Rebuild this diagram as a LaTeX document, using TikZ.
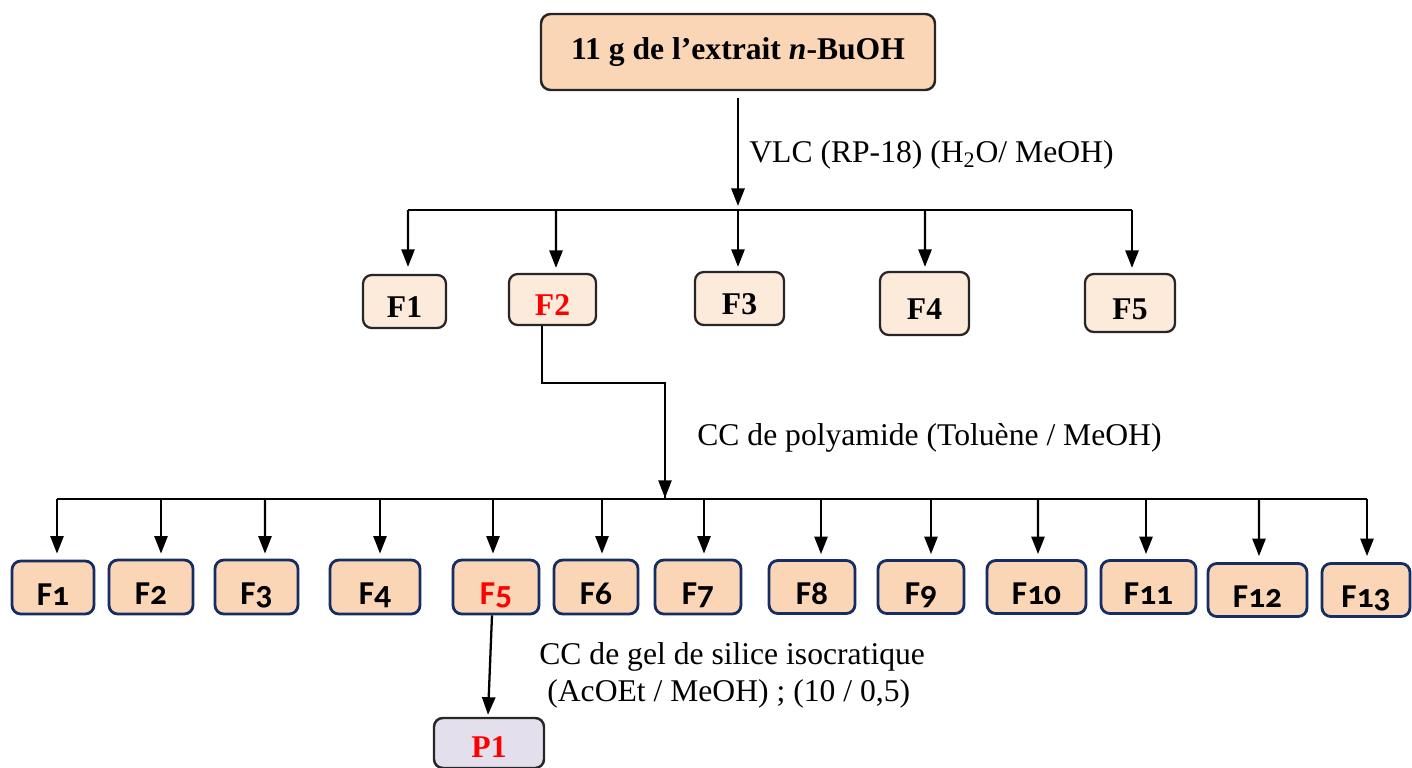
\documentclass[tikz,border=0pt]{standalone}
\usepackage{fontspec}
\setmainfont{Liberation Serif}
\newfontfamily\calfont[Numbers=OldStyle]{Carlito}
\usetikzlibrary{arrows.meta,positioning,calc}
\definecolor{peach}{RGB}{250,213,182}
\definecolor{lightpeach}{RGB}{252,234,219}
\definecolor{navyline}{RGB}{22,45,100}
\definecolor{lavender}{RGB}{228,223,236}
\def\red(#1){\textcolor{red}{#1}}
\newcommand{\fsz}{\fontsize{18}{21}\selectfont}
\newcommand{\fszb}{\fontsize{19}{22}\selectfont}
\tikzset{
  sz/.style 2 args={minimum width=#1*0.02cm, minimum height=#2*0.02cm},
  topbox/.style={draw=black!85, fill=peach, rounded corners=5.5pt, line width=1.4pt,
    font=\fsz\bfseries, inner sep=0pt},
  fa/.style={draw=black!85, fill=lightpeach, rounded corners=5pt, line width=1.3pt,
    font=\fsz\bfseries, inner sep=0pt, text height=18.4pt, text depth=0pt},
  fb/.style={draw=navyline, fill=peach, rounded corners=5pt, line width=1.6pt,
    font=\calfont\fszb\bfseries, inner sep=0pt, text height=20pt, text depth=0pt},
  pbox/.style={draw=black!85, fill=lavender, rounded corners=5pt, line width=1.4pt,
    font=\fsz\bfseries, inner sep=0pt, text height=16pt, text depth=0pt},
  arr/.style={-{Triangle[length=10pt,width=7.5pt]}, line width=1.3pt},
  lbl/.style={font=\fsz, anchor=west, inner sep=0pt},
}
\begin{document}
\begin{tikzpicture}[x=0.02cm,y=-0.02cm]
\useasboundingbox (0,0) rectangle (1412,767);
% starting extract
\node (ext) at (738,52) [topbox, sz={394}{76}] {11 g de l’extrait \textit{n}-BuOH};
% VLC fractions
\node (a1) at (404.5,301.5) [fa, sz={83}{53}] {F1};
\node (a2) at (552.5,299.5) [fa, sz={87}{51}] {\red(F2)};
\node (a3) at (739.5,298.5) [fa, sz={89}{53}] {F3};
\node (a4) at (924.5,303.5) [fa, sz={89}{63}] {F4};
\node (a5) at (1130,303) [fa, sz={90}{58}] {F5};
\coordinate (busa) at (738,210);
\draw[arr] (ext.south) ++(0,7) -- ($(busa)+(0,-4)$);
\node[lbl] at (749,155) {VLC (RP-18) (H\textsubscript{2}O/ MeOH)};
\draw[line width=1.3pt] (408,210) -- (1132,210);
\draw[arr] (408,210) -- ($(a1.north)+(3.5,-7)$);
\draw[arr] (556,210) -- ($(a2.north)+(3.5,-5)$);
\draw[arr] (busa) -- ($(a3.north)+(-1.5,-4)$);
\draw[arr] (925,210) -- ($(a4.north)+(0.5,-4)$);
\draw[arr] (1132,210) -- ($(a5.north)+(2,-5)$);
% polyamide fractions
\node (b1) at (53,587.5) [fb, sz={82}{53}] {F1};
\node (b2) at (151,587) [fb, sz={84}{54}] {F2};
\node (b3) at (256.5,587) [fb, sz={83}{54}] {F3};
\node (b4) at (375,587) [fb, sz={90}{54}] {F4};
\node (b5) at (496,587) [fb, sz={86}{54}] {\red(F5)};
\node (b6) at (596,587) [fb, sz={84}{54}] {F6};
\node (b7) at (698,587) [fb, sz={86}{54}] {F7};
\node (b8) at (812,587) [fb, sz={86}{53}] {F8};
\node (b9) at (921,587) [fb, sz={86}{53}] {F9};
\node (b10) at (1036.5,587) [fb, sz={99}{53}] {F10};
\node (b11) at (1148.5,587) [fb, sz={95}{53}] {F11};
\node (b12) at (1257.5,590) [fb, sz={99}{53}] {F12};
\node (b13) at (1366,590) [fb, sz={88}{53}] {F13};
\coordinate (busb) at (665,499);
\draw[line width=0.9pt] ($(a2.south)+(-10.5,0)$) |- (665,383) -- ($(busb)+(0,-1)$);
\draw[arr, line width=0.9pt] (665,440) -- ($(busb)+(0,-1)$);
\node[lbl] at (697,438) {CC de polyamide (Toluène / MeOH)};
\draw[line width=1.1pt] (57,499) -- (1367,499);
\draw[arr] (57,499) -- ($(b1.north)+(4,-6)$);
\draw[arr] (161,499) -- ($(b2.north)+(10,-5)$);
\draw[arr] (265,499) -- ($(b3.north)+(8.5,-5)$);
\draw[arr] (380,499) -- ($(b4.north)+(5,-5)$);
\draw[arr] (493,499) -- ($(b5.north)+(-3,-5)$);
\draw[arr] (602,499) -- ($(b6.north)+(6,-5)$);
\draw[arr] (704,499) -- ($(b7.north)+(6,-5)$);
\draw[arr] (821,499) -- ($(b8.north)+(9,-5)$);
\draw[arr] (931,499) -- ($(b9.north)+(10,-5)$);
\draw[arr] (1038,499) -- ($(b10.north)+(1.5,-5)$);
\draw[arr] (1146,499) -- ($(b11.north)+(-2.5,-5)$);
\draw[arr] (1259,499) -- ($(b12.north)+(1.5,-6)$);
\draw[arr] (1367,499) -- ($(b13.north)+(1,-6)$);
% isocratic silica column
\node (p1) at (489,743) [pbox, sz={110}{50}] {\red(P1)};
\draw[arr] ($(b5.south)+(-4,0)$) -- ($(p1.north)+(-1,-2)$);
\node[lbl] at (539,657) {CC de gel de silice isocratique};
\node[lbl] at (547,694) {(AcOEt / MeOH) ; (10 / 0,5)};
\end{tikzpicture}
\end{document}
